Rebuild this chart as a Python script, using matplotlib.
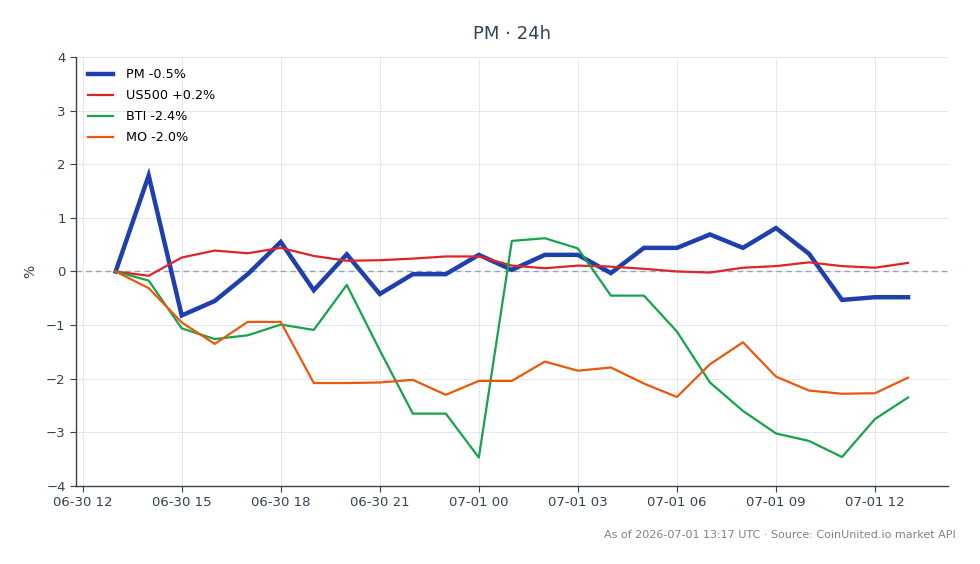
"""PM 24h relative performance vs peers."""
import matplotlib
matplotlib.use("Agg")
import matplotlib.pyplot as plt
import matplotlib.dates as mdates
import pandas as pd

# ── data ─────────────────────────────────────────────────────────────────
times = pd.date_range("2026-06-30 13:00", "2026-07-01 13:00", freq="h")

pm = [0.0, 1.79, -0.82, -0.55, -0.05, 0.55, -0.35, 0.32, -0.42, -0.05, -0.05, 0.31, 0.03,
      0.31, 0.31, -0.03, 0.44, 0.44, 0.69, 0.44, 0.81, 0.33, -0.53, -0.48, -0.48]
us500 = [0.0, -0.08, 0.26, 0.39, 0.34, 0.44, 0.29, 0.2, 0.21, 0.24, 0.28, 0.28, 0.11,
         0.06, 0.11, 0.09, 0.05, 0.0, -0.02, 0.07, 0.1, 0.17, 0.1, 0.07, 0.16]
bti = [0.0, -0.17, -1.06, -1.26, -1.19, -0.99, -1.09, -0.25, -1.47, -2.65, -2.65, -3.47, 0.57,
       0.62, 0.43, -0.45, -0.45, -1.12, -2.07, -2.6, -3.02, -3.16, -3.46, -2.75, -2.35]
mo = [0.0, -0.31, -0.95, -1.35, -0.94, -0.94, -2.08, -2.08, -2.07, -2.02, -2.3, -2.04, -2.04,
      -1.68, -1.85, -1.79, -2.09, -2.34, -1.73, -1.32, -1.96, -2.22, -2.28, -2.27, -1.98]

names = ["PM", "US500", "BTI", "MO"]
changes = ["-0.5%", "+0.2%", "-2.4%", "-2.0%"]
colors = ["#1e40af", "#dc2626", "#16a34a", "#ea580c"]
widths = [3.2, 1.6, 1.6, 1.6]

TEXT = "#334155"

# ── figure ───────────────────────────────────────────────────────────────
fig = plt.figure(figsize=(9.8, 5.64), dpi=100)
ax = fig.add_axes([0.0776, 0.1383, 0.8894, 0.7607])

for series, name, chg, color, lw in zip([pm, us500, bti, mo], names, changes, colors, widths):
    ax.plot(times, series, color=color, linewidth=lw, label=f"{name} {chg}",
            solid_joinstyle="miter" if lw > 2 else "round")

ax.axhline(0, color="#94a3b8", linewidth=1.0, linestyle=(0, (4, 3)), zorder=1.5)

ax.set_ylim(-4, 4)
ax.set_yticks(range(-4, 5))
ax.xaxis.set_major_locator(mdates.HourLocator(byhour=range(0, 24, 3)))
ax.xaxis.set_major_formatter(mdates.DateFormatter("%m-%d %H"))

ax.grid(True, color="#e5e7eb", linewidth=0.7)
ax.set_axisbelow(True)
for side in ("top", "right"):
    ax.spines[side].set_visible(False)
for side in ("left", "bottom"):
    ax.spines[side].set_color(TEXT)
    ax.spines[side].set_linewidth(1.0)
ax.tick_params(colors=TEXT, labelsize=9.5, length=4)

ax.set_ylabel("%", color=TEXT, fontsize=10, labelpad=6)
ax.set_title("PM · 24h", color=TEXT, fontsize=13, pad=13)

ax.legend(loc="upper left", frameon=False, fontsize=9.2, handlelength=2.0,
          labelspacing=0.62, borderaxespad=0.5, handletextpad=1.0)

fig.text(0.975, 0.052, "As of 2026-07-01 13:17 UTC · Source: CoinUnited.io market API",
         ha="right", va="center", fontsize=8, color="#7c828c")

fig.savefig("out.png", dpi=100)
